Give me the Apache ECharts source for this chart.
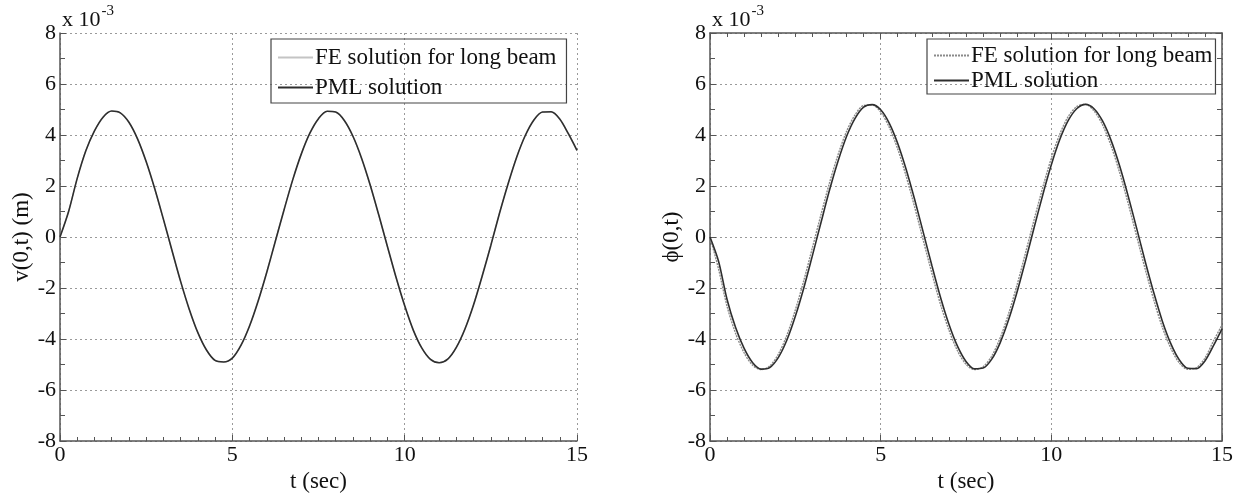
<!DOCTYPE html>
<html>
<head>
<meta charset="utf-8">
<script src="https://cdn.jsdelivr.net/npm/echarts@6/dist/echarts.min.js"></script>
<style>
  html, body { margin: 0; padding: 0; background: #fff; }
  #chart { width: 1243px; height: 498px; }
</style>
</head>
<body>
<div id="chart"></div>
<script>
// time samples (sec), every 0.25 s
var tSec = [0, 0.25, 0.5, 0.75, 1, 1.25, 1.5, 1.75, 2, 2.25, 2.5, 2.75, 3, 3.25, 3.5, 3.75,
    4, 4.25, 4.5, 4.75, 5, 5.25, 5.5, 5.75, 6, 6.25, 6.5, 6.75, 7, 7.25, 7.5, 7.75,
    8, 8.25, 8.5, 8.75, 9, 9.25, 9.5, 9.75, 10, 10.25, 10.5, 10.75, 11, 11.25, 11.5, 11.75,
    12, 12.25, 12.5, 12.75, 13, 13.25, 13.5, 13.75, 14, 14.25, 14.5, 14.75, 15];

// left plot, v(0,t) in units of 1e-3 m
var vPML = [0, 1.0, 2.3, 3.38, 4.16, 4.7, 4.94, 4.87, 4.5, 3.85, 2.96, 1.89, 0.7, -0.53, -1.74, -2.83,
    -3.75, -4.43, -4.84, -4.9, -4.75, -4.25, -3.49, -2.51, -1.38, -0.16, 1.06, 2.23, 3.25, 4.07, 4.64, 4.93,
    4.9, 4.57, 3.95, 3.09, 2.04, 0.86, -0.37, -1.58, -2.69, -3.65, -4.36, -4.8, -4.93, -4.79, -4.33, -3.61,
    -2.66, -1.53, -0.33, 0.92, 2.08, 3.13, 3.98, 4.59, 4.9, 4.91, 4.63, 4.05, 3.4];
var vFE = [0, 1.02, 2.32, 3.4, 4.17, 4.71, 4.94, 4.86, 4.48, 3.83, 2.93, 1.86, 0.67, -0.56, -1.77, -2.86,
    -3.77, -4.44, -4.85, -4.9, -4.74, -4.23, -3.46, -2.48, -1.35, -0.13, 1.09, 2.26, 3.27, 4.09, 4.65, 4.93,
    4.89, 4.55, 3.93, 3.06, 2.01, 0.83, -0.4, -1.61, -2.72, -3.67, -4.37, -4.81, -4.93, -4.78, -4.31, -3.58,
    -2.63, -1.5, -0.3, 0.95, 2.11, 3.15, 4.0, 4.6, 4.9, 4.9, 4.61, 4.02, 3.37];

// right plot, phi(0,t) in units of 1e-3
var phiPML = [0, -0.95, -2.45, -3.55, -4.37, -4.93, -5.18, -5.12, -4.73, -4.05, -3.11, -1.99, -0.73, 0.56, 1.83, 2.97,
    3.94, 4.65, 5.09, 5.19, 4.99, 4.47, 3.67, 2.64, 1.45, 0.17, -1.12, -2.35, -3.42, -4.28, -4.88, -5.17,
    -5.14, -4.8, -4.15, -3.24, -2.14, -0.9, 0.39, 1.66, 2.83, 3.83, 4.58, 5.04, 5.2, 5.03, 4.55, 3.79,
    2.79, 1.61, 0.34, -0.96, -2.18, -3.29, -4.18, -4.82, -5.15, -5.16, -4.86, -4.26, -3.6];
var phiFE = [0, -1.25, -2.72, -3.78, -4.54, -5.03, -5.2, -5.06, -4.6, -3.86, -2.86, -1.7, -0.42, 0.87, 2.12, 3.22,
    4.14, 4.79, 5.16, 5.18, 4.9, 4.31, 3.45, 2.37, 1.15, -0.14, -1.42, -2.63, -3.65, -4.46, -4.99, -5.2,
    -5.09, -4.68, -3.96, -3.0, -1.86, -0.59, 0.7, 1.95, 3.09, 4.04, 4.73, 5.12, 5.2, 4.95, 4.4, 3.58,
    2.53, 1.32, 0.03, -1.26, -2.46, -3.53, -4.36, -4.94, -5.19, -5.13, -4.75, -4.08, -3.45];

var legendNames = { feL: 'FE solution for long beam', pmlL: 'PML solution',
    feR: 'FE solution for long beam', pmlR: 'PML solution' };

function pairs(ys) {
    return tSec.map(function (t, i) { return [t, ys[i]]; });
}

var font = 'Liberation Serif';
var axisCol = '#555';
var gridLine = { show: true, lineStyle: { type: [2, 3], color: '#9a9a9a', width: 1 } };

function xAxisCfg(gridIndex, pos, labels) {
    return {
        type: 'value', gridIndex: gridIndex, position: pos, min: 0, max: 15, interval: 5,
        name: labels ? 't (sec)' : '', nameLocation: 'middle', nameGap: 29,
        nameTextStyle: { fontFamily: font, fontSize: 23, color: '#111' },
        axisLine: { show: true, onZero: false, lineStyle: { color: axisCol, width: 1.5 } },
        axisTick: { show: true, inside: true, length: 6, lineStyle: { color: axisCol } },
        minorTick: { show: true, splitNumber: 10, length: 4, lineStyle: { color: axisCol } },
        axisLabel: { show: labels, margin: 3, fontFamily: font, fontSize: 22, color: '#111' },
        splitLine: labels ? gridLine : { show: false }
    };
}

function yAxisCfg(gridIndex, pos, name, gap) {
    return {
        type: 'value', gridIndex: gridIndex, position: pos, min: -8, max: 8, interval: 2,
        name: name || '', nameLocation: 'middle', nameGap: gap || 30,
        nameTextStyle: { fontFamily: font, fontSize: 23, color: '#111' },
        axisLine: { show: true, onZero: false, lineStyle: { color: axisCol, width: 1.5 } },
        axisTick: { show: true, inside: true, length: 6, lineStyle: { color: axisCol } },
        minorTick: { show: true, splitNumber: 2, length: 5, lineStyle: { color: axisCol } },
        axisLabel: { show: !!name, margin: 4, fontFamily: font, fontSize: 22, color: '#111' },
        splitLine: name ? gridLine : { show: false }
    };
}

function legendCfg(names, left, top, pad, gap) {
    return {
        data: names, orient: 'vertical', left: left, top: top,
        padding: pad, itemGap: gap, itemWidth: 35, itemHeight: 20,
        borderColor: '#444', borderWidth: 1.2, borderRadius: 0,
        itemStyle: { opacity: 0 },
        textStyle: { fontFamily: font, fontSize: 23, color: '#111', padding: [0, 0, 0, -3] },
        formatter: function (n) { return legendNames[n]; },
        selectedMode: false
    };
}

function expLabel(x) {
    return {
        type: 'text', left: x, top: 4,
        style: {
            text: '{a|x 10}{b|-3}',
            rich: {
                a: { fontFamily: font, fontSize: 22, fill: '#111', padding: [9, 0, 0, 0] },
                b: { fontFamily: font, fontSize: 15, fill: '#111', padding: [0, 0, 8, 1] }
            }
        }
    };
}

var chart = echarts.init(document.getElementById('chart'));
chart.setOption({
    backgroundColor: '#fff',
    animation: false,
    grid: [
        { left: 60, top: 33, width: 517, height: 408, outerBoundsMode: 'none' },
        { left: 710, top: 33, width: 512, height: 408, outerBoundsMode: 'none' }
    ],
    xAxis: [xAxisCfg(0, 'bottom', true), xAxisCfg(1, 'bottom', true), xAxisCfg(1, 'top', false)],
    yAxis: [yAxisCfg(0, 'left', 'v(0,t) (m)', 27), yAxisCfg(1, 'left', 'ϕ(0,t)', 27), yAxisCfg(1, 'right', '')],
    legend: [
        legendCfg(['feL', 'pmlL'], 271, 39, [7, 10, 4, 6], 7),
        legendCfg(['feR', 'pmlR'], 927, 39, [5, 3, 2, 6], 2)
    ],
    graphic: [expLabel(62), expLabel(712)],
    series: [
        { name: 'feL', type: 'line', xAxisIndex: 0, yAxisIndex: 0, data: pairs(vFE),
          smooth: 0.3, symbol: 'none', itemStyle: { color: '#c4c4c4' },
          lineStyle: { color: '#c4c4c4', width: 1.2 } },
        { name: 'pmlL', type: 'line', xAxisIndex: 0, yAxisIndex: 0, data: pairs(vPML),
          smooth: 0.3, symbol: 'none', itemStyle: { color: '#2e2e2e' },
          lineStyle: { color: '#2e2e2e', width: 1.6 } },
        { name: 'feR', type: 'line', xAxisIndex: 1, yAxisIndex: 1, data: pairs(phiFE),
          smooth: 0.3, symbol: 'none', itemStyle: { color: '#8a8a8a' },
          lineStyle: { color: '#8a8a8a', width: 1.4, type: [2, 1] } },
        { name: 'pmlR', type: 'line', xAxisIndex: 1, yAxisIndex: 1, data: pairs(phiPML),
          smooth: 0.3, symbol: 'none', itemStyle: { color: '#2e2e2e' },
          lineStyle: { color: '#2e2e2e', width: 1.6 } }
    ]
});
</script>
</body>
</html>
